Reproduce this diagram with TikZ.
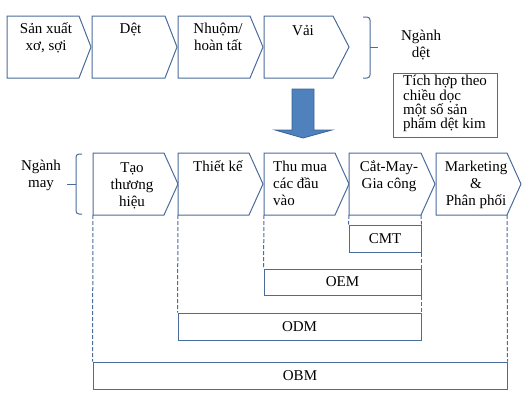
\documentclass[tikz,border=0pt]{standalone}
\usepackage{fontspec}
\setmainfont{Liberation Serif}
\definecolor{edge}{HTML}{4A6C9B}
\definecolor{arrowfill}{HTML}{4F81BD}
\definecolor{arrowedge}{HTML}{3A6496}
\tikzset{
  shp/.style={draw=edge, line width=1pt, fill=white, line join=miter},
  lbl/.style={inner sep=0pt, font=\fontsize{15}{17}\selectfont, align=center},
  lbll/.style={inner sep=0pt, font=\fontsize{15}{17}\selectfont, align=left},
  box/.style={draw=edge, line width=1pt, fill=white, inner sep=0pt, font=\fontsize{15}{17}\selectfont},
  guide/.style={draw=edge, line width=1pt, dash pattern=on 4pt off 2pt},
  brace/.style={draw=edge, line width=1pt, rounded corners=3pt},
}
\newcommand\mychev[6]{%
  \draw[shp] (#2,#3) -- (#4,#3) -- (#5,{(#3+#6)/2}) -- (#4,#6) -- (#2,#6) -- cycle;
  \coordinate (#1-sw) at (#2,#6);
  \coordinate (#1-se) at (#4,#6);
}
\begin{document}
\begin{tikzpicture}[x=1pt,y=-1pt]
\useasboundingbox (0,0) rectangle (529,408);
% top row
\mychev{t1}{7}{16}{79}{91}{78}
\mychev{t2}{92}{16}{165}{177}{78}
\mychev{t3}{178}{16}{250}{263}{78}
\mychev{t4}{264}{16}{333}{349}{78}
\node[lbl, anchor=base] (sx) at (46,50) {Sản xuất\\xơ, sợi};
\node[lbl, anchor=base] (det) at (130.5,33) {Dệt};
\node[lbl, anchor=base] (nh) at (218,50) {Nhuộm/\\hoàn tất};
\node[lbl, anchor=base] (vai) at (303,35) {Vải};
% brace top
\coordinate (bt1) at (363,17);
\coordinate (bt2) at (370,17);
\coordinate (bt3) at (370,47);
\coordinate (bt4) at (378,47);
\coordinate (bt5) at (370,78);
\coordinate (bt6) at (363,78);
\draw[brace] (bt1) -- (bt2) -- (bt3) -- (bt5) -- (bt6);
\draw[draw=edge, line width=1pt] (bt3) -- (bt4);
\node[lbl, anchor=base] (ndet) at (421,57) {Ngành\\dệt};
% integration box
\node[box, minimum width=104pt, minimum height=64pt] (tich) at (445,105) {};
\node[lbll, anchor=base west, font=\fontsize{15}{12.6}\selectfont] (tichtxt) at (403,128.8) {Tích hợp theo\\chiều dọc\\một số sản\\phẩm dệt kim};
% block arrow
\draw[fill=arrowfill, draw=arrowedge, line width=0.8pt, line join=miter]
  (292,89) -- (314,89) -- (314,130) -- (332,130) -- (303,138) -- (275,130) -- (292,130) -- cycle;
% second row
\mychev{A}{93}{153}{164}{178}{215}
\mychev{B}{178}{153}{249}{263}{215}
\mychev{C}{264}{153}{335}{349}{215}
\mychev{D}{349}{153}{421}{435}{215}
\mychev{E}{436}{153}{507}{521}{215}
\node[lbl, anchor=base] (tao) at (132,206) {Tạo\\thương\\hiệu};
\node[lbl, anchor=base] (tk) at (218,171) {Thiết kế};
\node[lbll, anchor=base west] (thu) at (273,205) {Thu mua\\các đầu\\vào};
\node[lbl, anchor=base] (cat) at (389,188) {Cắt-May-\\Gia công};
\node[lbl, anchor=base] (mkt) at (476,205) {Marketing\\\&\\Phân phối};
% brace second row
\coordinate (bm1) at (82,154);
\coordinate (bm2) at (76,154);
\coordinate (bm3) at (76,184);
\coordinate (bm4) at (67,184);
\coordinate (bm5) at (76,214);
\coordinate (bm6) at (82,214);
\draw[brace] (bm1) -- (bm2) -- (bm3) -- (bm5) -- (bm6);
\draw[draw=edge, line width=1pt] (bm3) -- (bm4);
\node[lbl, anchor=base] (nmay) at (41,187) {Ngành\\may};
% model boxes
\node[box, minimum width=72pt, minimum height=27pt] (CMT) at (385,238.5) {CMT};
\node[box, minimum width=157pt, minimum height=26pt] (OEM) at (342.5,282) {OEM};
\node[box, minimum width=243pt, minimum height=27pt] (ODM) at (299.5,326.5) {ODM};
\node[box, minimum width=414pt, minimum height=27pt] (OBM) at (300,375.5) {OBM};
% dashed guides
\draw[guide] (A-sw) -- (OBM.north west);
\draw[guide] (B-sw) -- (ODM.north west);
\draw[guide] (C-sw) -- (OEM.north west);
\draw[guide] (D-sw) -- (CMT.north west);
\draw[guide] (D-se) -- (CMT.north east);
\draw[guide] (CMT.south east) -- (OEM.north east);
\draw[guide] (OEM.south east) -- (ODM.north east);
\draw[guide] (E-se) -- (OBM.north east);
\end{tikzpicture}
\end{document}
